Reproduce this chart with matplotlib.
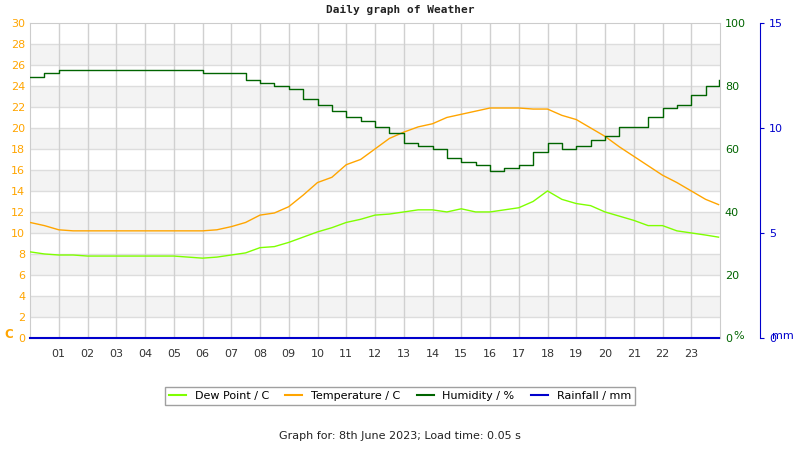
import matplotlib
matplotlib.use("Agg")
import matplotlib.pyplot as plt
from matplotlib.lines import Line2D

hours = [0, 0.5, 1, 1.5, 2, 2.5, 3, 3.5, 4, 4.5, 5, 5.5, 6, 6.5, 7, 7.5, 8, 8.5, 9, 9.5,
         10, 10.5, 11, 11.5, 12, 12.5, 13, 13.5, 14, 14.5, 15, 15.5, 16, 16.5, 17, 17.5,
         18, 18.5, 19, 19.5, 20, 20.5, 21, 21.5, 22, 22.5, 23, 23.5, 23.95]
temperature = [11.0, 10.7, 10.3, 10.2, 10.2, 10.2, 10.2, 10.2, 10.2, 10.2, 10.2, 10.2, 10.2, 10.3, 10.6, 11.0,
               11.7, 11.9, 12.5, 13.6, 14.8, 15.3, 16.5, 17.0, 18.0, 19.0, 19.6, 20.1, 20.4, 21.0,
               21.3, 21.6, 21.9, 21.9, 21.9, 21.8, 21.8, 21.2, 20.8, 20.0, 19.2, 18.2, 17.3, 16.4,
               15.5, 14.8, 14.0, 13.2, 12.7]
dew_point = [8.2, 8.0, 7.9, 7.9, 7.8, 7.8, 7.8, 7.8, 7.8, 7.8, 7.8, 7.7, 7.6, 7.7, 7.9, 8.1,
             8.6, 8.7, 9.1, 9.6, 10.1, 10.5, 11.0, 11.3, 11.7, 11.8, 12.0, 12.2, 12.2, 12.0,
             12.3, 12.0, 12.0, 12.2, 12.4, 13.0, 14.0, 13.2, 12.8, 12.6, 12.0, 11.6, 11.2, 10.7,
             10.7, 10.2, 10.0, 9.8, 9.6]
humidity = [83, 84, 85, 85, 85, 85, 85, 85, 85, 85, 85, 85, 84, 84, 84, 82,
            81, 80, 79, 76, 74, 72, 70, 69, 67, 65, 62, 61, 60, 57,
            56, 55, 53, 54, 55, 59, 62, 60, 61, 63, 64, 67, 67, 70,
            73, 74, 77, 80, 82]
rainfall = [0] * len(hours)
hour_labels = ["%02d" % h for h in range(1, 24)]

fig = plt.figure(figsize=(8, 4.5), dpi=100)
ax = fig.add_axes([0.0375, 0.249, 0.8625, 0.7])
ax.set_xlim(0, 24)
ax.set_ylim(0, 30)
for y0 in range(2, 30, 4):
    ax.axhspan(y0, y0 + 2, color="#f3f3f3", zorder=0, lw=0)
for y in range(2, 30, 2):
    ax.axhline(y, color="#dddddd", lw=1, zorder=1)
for h in range(1, 24):
    ax.axvline(h, color="#d0d0d0", lw=1, zorder=1)
for s in ax.spines.values():
    s.set_color("#cccccc")

ax.plot(hours, dew_point, color="#7fff00", lw=1, zorder=3)
ax.plot(hours, temperature, color="#ffa500", lw=1, zorder=3)
ax.set_xticks(range(1, 24))
ax.set_xticklabels(hour_labels, fontsize=8, color="#333333")
ax.set_yticks(range(0, 31, 2))
ax.tick_params(axis="y", colors="#ffa500", labelsize=8, length=0)
ax.tick_params(axis="x", length=0, pad=8)
ax.text(-0.037, 0.0, "C", transform=ax.transAxes, color="#ffa500", fontsize=8.5, fontweight="bold")

ax2 = ax.twinx()
ax2.set_ylim(0, 100)
ax2.set_yticks(range(0, 101, 20))
ax2.tick_params(axis="y", colors="#006400", labelsize=8, length=0)
ax2.plot(hours, humidity, color="#006400", lw=1, drawstyle="steps-post", zorder=4)
for s in ax2.spines.values():
    s.set_visible(False)
ax2.text(1.02, -0.01, "%", transform=ax.transAxes, color="#006400", fontsize=8, va="bottom")

ax3 = ax.twinx()
ax3.set_ylim(0, 15)
ax3.spines["right"].set_position(("axes", 1.058))
ax3.spines["right"].set_color("#0000cc")
for k in ["top", "left", "bottom"]:
    ax3.spines[k].set_visible(False)
ax3.set_yticks([0, 5, 10, 15])
ax3.tick_params(axis="y", colors="#0000cc", labelsize=8, length=3)
ax3.plot(hours, rainfall, color="#0000cc", lw=1.5, zorder=5, clip_on=False)
ax3.text(1.075, -0.01, "mm", transform=ax.transAxes, color="#0000cc", fontsize=8, va="bottom")

fig.text(0.5, 0.972, "Daily graph of Weather", ha="center", fontsize=8,
         family="DejaVu Sans Mono", fontweight="bold", color="#222222")

handles = [Line2D([], [], color="#7fff00"), Line2D([], [], color="#ffa500"),
           Line2D([], [], color="#006400"), Line2D([], [], color="#0000cc")]
labels = ["Dew Point / C", "Temperature / C", "Humidity / %", "Rainfall / mm"]
fig.legend(handles, labels, loc="center", bbox_to_anchor=(0.5, 0.12), ncol=4, fontsize=8,
           frameon=True, fancybox=False, edgecolor="#888888", handlelength=1.5, columnspacing=1.5)
fig.text(0.5, 0.025, "Graph for: 8th June 2023; Load time: 0.05 s", ha="center", fontsize=8, color="#222222")

fig.savefig("out.png", dpi=100)
